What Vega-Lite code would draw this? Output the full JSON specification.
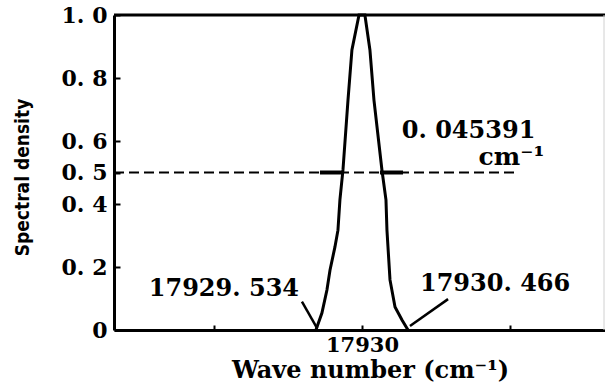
{
  "$schema": "https://vega.github.io/schema/vega-lite/v6.json",
  "width": 491,
  "height": 315,
  "autosize": {"type": "none"},
  "padding": {"left": 114, "top": 15, "right": 0, "bottom": 53},
  "background": "white",
  "config": {"view": {"stroke": null}, "font": "DejaVu Serif"},
  "datasets": {
    "peak": [
      {"wavenumber": 17929.532, "density": 0},
      {"wavenumber": 17929.593, "density": 0.054},
      {"wavenumber": 17929.644, "density": 0.127},
      {"wavenumber": 17929.675, "density": 0.19},
      {"wavenumber": 17929.725, "density": 0.263},
      {"wavenumber": 17929.756, "density": 0.317},
      {"wavenumber": 17929.776, "density": 0.413},
      {"wavenumber": 17929.807, "density": 0.508},
      {"wavenumber": 17929.858, "density": 0.73},
      {"wavenumber": 17929.898, "density": 0.889},
      {"wavenumber": 17929.97, "density": 1.0},
      {"wavenumber": 17930.03, "density": 1.0},
      {"wavenumber": 17930.081, "density": 0.889},
      {"wavenumber": 17930.122, "density": 0.73},
      {"wavenumber": 17930.203, "density": 0.508},
      {"wavenumber": 17930.244, "density": 0.413},
      {"wavenumber": 17930.254, "density": 0.317},
      {"wavenumber": 17930.285, "density": 0.159},
      {"wavenumber": 17930.336, "density": 0.073},
      {"wavenumber": 17930.407, "density": 0.032},
      {"wavenumber": 17930.468, "density": 0}
    ],
    "halfmax": [
      {"x": 17927.48, "x2": 17931.576, "y": 0.5}
    ],
    "arrowheads": [
      {"x": 17929.573, "x2": 17929.807, "y": 0.5},
      {"x": 17930.183, "x2": 17930.417, "y": 0.5}
    ],
    "pointers": [
      {"x": 17929.39, "x2": 17929.545, "y": 0.09, "y2": 0.005},
      {"x": 17930.875, "x2": 17930.488, "y": 0.098, "y2": 0.013}
    ],
    "frame": [
      {"x": 17927.48, "x2": 17932.47, "y": 1, "y2": 1}
    ],
    "rightedge": [
      {"x": 17932.46, "y": 0, "y2": 1}
    ],
    "labels": [
      {"x": 17928.597, "y": 0.13, "text": "17929. 534"},
      {"x": 17931.353, "y": 0.146, "text": "17930. 466"},
      {"x": 17931.083, "y": 0.632, "text": "0. 045391"}
    ],
    "units": [
      {"x": 17931.52, "y": 0.55, "text": "cm⁻¹"}
    ]
  },
  "layer": [
    {
      "data": {"name": "peak"},
      "mark": {"type": "line", "color": "black", "strokeWidth": 3},
      "encoding": {
        "x": {
          "field": "wavenumber", "type": "quantitative",
          "scale": {"domain": [17927.48, 17932.47], "nice": false, "zero": false},
          "axis": {
            "values": [17928.5, 17930, 17931.5],
            "labelExpr": "datum.value == 17930 ? '17930' : ''",
            "labelOverlap": false,
            "grid": false,
            "domainColor": "black", "domainWidth": 3,
            "tickColor": "black", "tickWidth": 2, "tickSize": -5,
            "labelFont": "DejaVu Serif", "labelFontWeight": "bold", "labelFontSize": 21,
            "labelColor": "black", "labelPadding": 9,
            "title": "Wave number (cm⁻¹)",
            "titleFont": "DejaVu Serif", "titleFontWeight": "bold", "titleFontSize": 24,
            "titleColor": "black", "titleX": 256, "titleY": 40, "titleBaseline": "middle", "titleAlign": "center"
          }
        },
        "y": {
          "field": "density", "type": "quantitative",
          "scale": {"domain": [0, 1], "nice": false},
          "axis": {
            "values": [0, 0.2, 0.4, 0.5, 0.6, 0.8, 1],
            "labelExpr": "datum.value == 0 ? '0' : replace(format(datum.value, '.1f'), '.', '. ')",
            "labelOverlap": false,
            "grid": false,
            "domainColor": "black", "domainWidth": 3,
            "tickColor": "black", "tickWidth": 2, "tickSize": -6,
            "labelFont": "DejaVu Serif", "labelFontWeight": "bold", "labelFontSize": 22,
            "labelColor": "black", "labelPadding": 13,
            "title": "Spectral density",
            "titleFont": "DejaVu Sans Condensed", "titleFontWeight": "bold", "titleFontSize": 19,
            "titleColor": "black", "titleX": -92, "titleY": 162, "titleAngle": -90,
            "titleBaseline": "middle", "titleAlign": "center"
          }
        }
      }
    },
    {
      "data": {"name": "halfmax"},
      "mark": {"type": "rule", "color": "black", "strokeWidth": 2, "strokeDash": [10, 5]},
      "encoding": {
        "x": {"field": "x", "type": "quantitative"},
        "x2": {"field": "x2"},
        "y": {"field": "y", "type": "quantitative"}
      }
    },
    {
      "data": {"name": "arrowheads"},
      "mark": {"type": "rule", "color": "black", "strokeWidth": 4},
      "encoding": {
        "x": {"field": "x", "type": "quantitative"},
        "x2": {"field": "x2"},
        "y": {"field": "y", "type": "quantitative"}
      }
    },
    {
      "data": {"name": "pointers"},
      "mark": {"type": "rule", "color": "black", "strokeWidth": 2.5},
      "encoding": {
        "x": {"field": "x", "type": "quantitative"},
        "x2": {"field": "x2"},
        "y": {"field": "y", "type": "quantitative"},
        "y2": {"field": "y2"}
      }
    },
    {
      "data": {"name": "frame"},
      "mark": {"type": "rule", "color": "black", "strokeWidth": 3},
      "encoding": {
        "x": {"field": "x", "type": "quantitative"},
        "x2": {"field": "x2"},
        "y": {"field": "y", "type": "quantitative"},
        "y2": {"field": "y2"}
      }
    },
    {
      "data": {"name": "rightedge"},
      "mark": {"type": "rule", "color": "#d0d0d0", "strokeWidth": 1},
      "encoding": {
        "x": {"field": "x", "type": "quantitative"},
        "y": {"field": "y", "type": "quantitative"},
        "y2": {"field": "y2"}
      }
    },
    {
      "data": {"name": "labels"},
      "mark": {"type": "text", "font": "DejaVu Serif", "fontWeight": "bold", "fontSize": 24, "color": "black", "align": "center", "baseline": "middle"},
      "encoding": {
        "x": {"field": "x", "type": "quantitative"},
        "y": {"field": "y", "type": "quantitative"},
        "text": {"field": "text"}
      }
    },
    {
      "data": {"name": "units"},
      "mark": {"type": "text", "font": "DejaVu Serif", "fontWeight": "bold", "fontSize": 25, "color": "black", "align": "center", "baseline": "middle"},
      "encoding": {
        "x": {"field": "x", "type": "quantitative"},
        "y": {"field": "y", "type": "quantitative"},
        "text": {"field": "text"}
      }
    }
  ]
}
